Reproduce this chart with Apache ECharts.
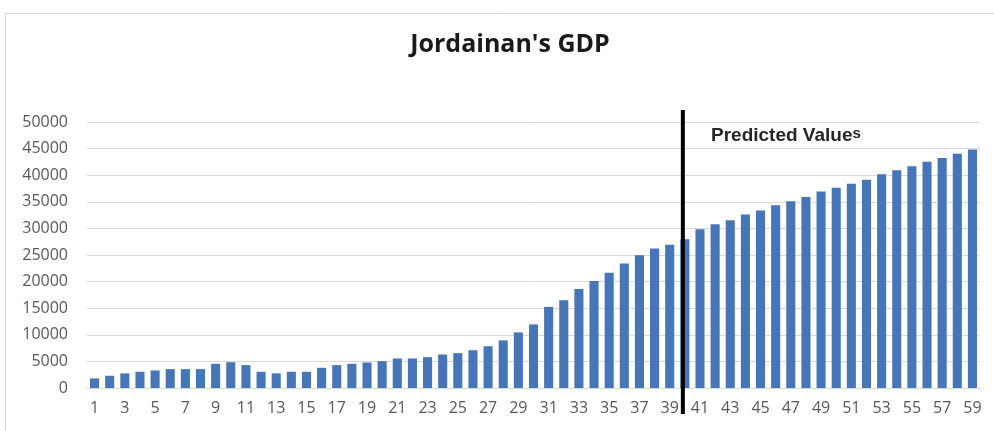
<!DOCTYPE html>
<html>
<head>
<meta charset="utf-8">
<script src="https://cdn.jsdelivr.net/npm/echarts@6/dist/echarts.min.js"></script>
<style>
  html, body { margin: 0; padding: 0; background: #fff; }
  #chart { width: 994px; height: 431px; }
</style>
</head>
<body>
<div id="chart"></div>
<script>
// Observation index 1..59
const categories = Array.from({ length: 59 }, (_, i) => String(i + 1));

// GDP per observation (first 39 observed, the rest predicted)
const gdpValues = [
  1800, 2300, 2750, 3050, 3300, 3550, 3550, 3550, 4550, 4850,
  4300, 3050, 2750, 3050, 3050, 3800, 4300, 4550, 4800, 5050,
  5550, 5550, 5800, 6300, 6550, 7100, 7850, 8950, 10450, 11950,
  15250, 16500, 18600, 20100, 21650, 23400, 24950, 26200, 26950, 27950,
  29850, 30800, 31550, 32600, 33350, 34350, 35100, 35900, 36950, 37650,
  38400, 39150, 40200, 40950, 41700, 42550, 43250, 44050, 44850
];

// Value-axis ticks
const yTicks = [0, 5000, 10000, 15000, 20000, 25000, 30000, 35000, 40000, 45000, 50000];

// First predicted observation, where the divider is drawn
const predictedStart = '40';

const chart = echarts.init(document.getElementById('chart'));

chart.setOption({
  backgroundColor: '#ffffff',
  animation: false,
  title: {
    text: "Jordainan's GDP",
    left: 505,
    top: 27,
    textAlign: 'center',
    textStyle: {
      fontFamily: 'Open Sans',
      fontWeight: 'bold',
      fontSize: 25,
      color: '#1a1a1a'
    }
  },
  grid: { left: 87, right: 14, top: 122, bottom: 43 },
  xAxis: {
    type: 'category',
    data: categories,
    axisTick: { show: false },
    axisLine: { lineStyle: { color: '#d9d9d9' } },
    axisLabel: {
      interval: 1,
      margin: 12,
      fontFamily: 'Open Sans',
      fontSize: 16,
      color: '#595959'
    }
  },
  yAxis: {
    type: 'value',
    min: yTicks[0],
    max: yTicks[yTicks.length - 1],
    interval: yTicks[1] - yTicks[0],
    axisLine: { show: false },
    axisTick: { show: false },
    splitLine: { lineStyle: { color: '#d9d9d9', width: 1 } },
    axisLabel: {
      margin: 19,
      fontFamily: 'Open Sans',
      fontSize: 16,
      color: '#595959',
      formatter: (v) => String(v)
    }
  },
  series: [{
    type: 'bar',
    data: gdpValues,
    barCategoryGap: '40%',
    itemStyle: { color: '#4675b8' }
  }]
});

// Divider before the predicted values, plus its caption and the outer frame
const dividerX = chart.convertToPixel({ xAxisIndex: 0 }, predictedStart) - 2;
chart.setOption({
  graphic: [
    {
      type: 'rect',
      shape: { x: 5.5, y: 13.5, width: 1000, height: 430 },
      style: { fill: 'none', stroke: '#d9d9d9', lineWidth: 1 },
      z: 0
    },
    {
      type: 'line',
      shape: { x1: dividerX, y1: 110, x2: dividerX, y2: 414 },
      style: { stroke: '#000000', lineWidth: 4 },
      z: 100
    },
    {
      type: 'text',
      left: 711,
      top: 126,
      style: {
        text: '{a|Predicted Value}{b|s}',
        rich: {
          a: { fontFamily: 'Liberation Sans', fontWeight: 'bold', fontSize: 19, fill: '#262626' },
          b: { fontFamily: 'Liberation Sans', fontWeight: 'bold', fontSize: 15, fill: '#262626', verticalAlign: 'top', padding: [0, 0, 4, 0] }
        }
      },
      z: 100
    }
  ]
});
</script>
</body>
</html>
